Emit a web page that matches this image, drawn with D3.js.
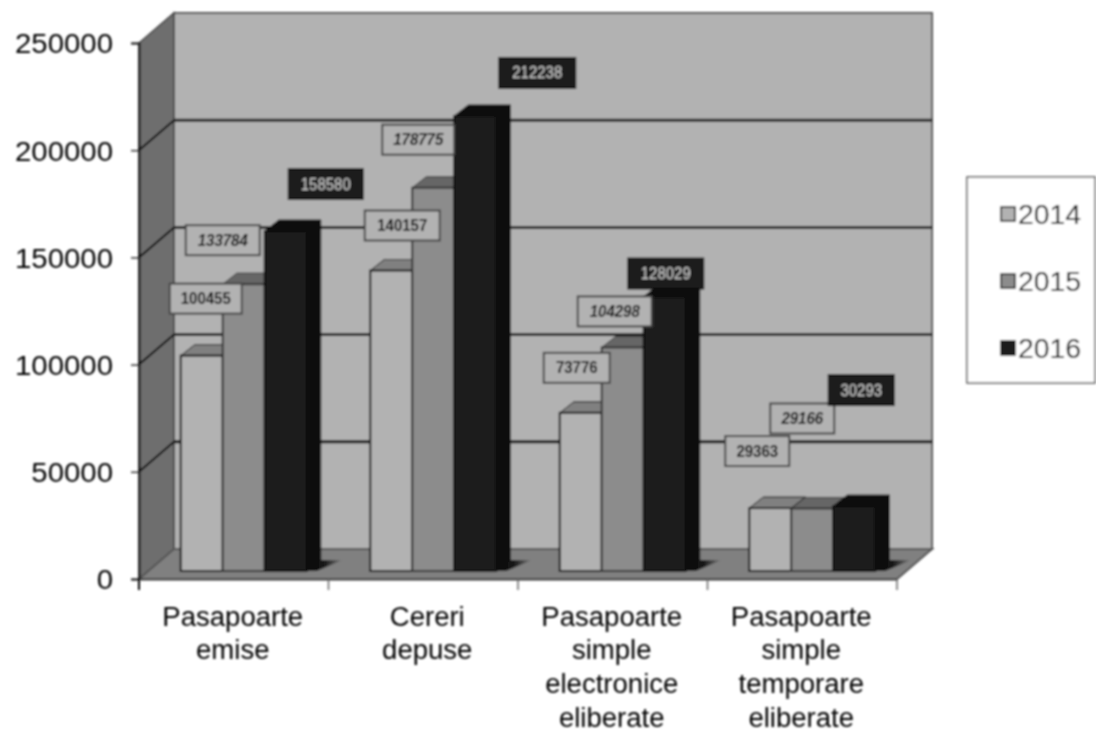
<!DOCTYPE html>
<html lang="ro">
<head>
<meta charset="UTF-8">
<title>Pasapoarte 2014-2016</title>
<style>
  html, body { margin: 0; padding: 0; background: #fff; overflow: hidden; }
  svg { display: block; }
  text { font-family: "Liberation Sans", Arial, sans-serif; }
  .axis path, .axis line { fill: none; }
</style>
</head>
<body>
<svg id="chart" width="1096" height="733"></svg>
<script src="https://d3js.org/d3.v7.min.js"></script>
<script>
// values
var categories = ["Pasapoarte emise", "Cereri depuse", "Pasapoarte simple electronice eliberate", "Pasapoarte simple temporare eliberate"];
var years = ["2014", "2015", "2016"];
var values2014 = [100455, 140157, 73776, 29363];
var values2015 = [133784, 178775, 104298, 29166];
var values2016 = [158580, 212238, 128029, 30293];
var yTicks = [0, 50000, 100000, 150000, 200000, 250000];

var seriesValues = [values2014, values2015, values2016];

// hand placed data labels, offset from top centre of the bar [series][category]
var labelDx = [[4, 11, -4, -13], [-21, -15, -8, -10], [40, 62, 1, 7]];
var labelDy = [[-57, -45, -45, -57], [-44, -48, -36, -90], [-47, -43, -23, -116]];
var labelWidth = [[72, 75, 66, 64], [74, 72, 74, 64], [74, 76, 75, 65]];
var catDx = [-1, 4, -1, -1];

var front = ["#b2b2b2", "#8c8c8c", "#1a1a1a"];
var topFace = ["#808080", "#666666", "#111111"];
var sideFace = ["#808080", "#666666", "#0f0f0f"];
var edge = ["#111111", "#333333", "#0a0a0a"];
var labelFill = ["#b2b2b2", "#b2b2b2", "#1a1a1a"];
var labelText = ["#000000", "#000000", "#cfcfcf"];

var depthX = 35, depthY = 30;     // wall offset
var barDx = 10, barDy = 8;        // bars stand a bit behind the front edge
var barDepthX = 14, barDepthY = 11;

var svg = d3.select("#chart");

var defs = svg.append("defs");
defs.append("filter").attr("id", "soft")
  .attr("filterUnits", "userSpaceOnUse")
  .attr("x", 0).attr("y", 0).attr("width", 1096).attr("height", 733)
  .append("feGaussianBlur").attr("stdDeviation", 0.8);
var grad = defs.append("linearGradient").attr("id", "shadow");
grad.append("stop").attr("offset", "0%").attr("stop-color", "#000");
grad.append("stop").attr("offset", "50%").attr("stop-color", "#1a1a1a");
grad.append("stop").attr("offset", "100%").attr("stop-color", "#808080");

var root = svg.append("g").attr("filter", "url(#soft)");

var x = d3.scaleBand().domain(categories).range([139, 897]);
var y = d3.scaleLinear().domain([0, 250000]).range([579, 43]);
var xInner = d3.scaleBand().domain(years).range([0, x.bandwidth()]).paddingInner(0).paddingOuter(0.756);

var x0 = x.range()[0], x1 = x.range()[1];
var yBase = y(0), yTop = y(250000);

function poly(pts) { return pts.map(function(p) { return p.join(","); }).join(" "); }

// walls and floor
root.append("polygon")
  .attr("points", poly([[x0 + depthX, yTop - depthY], [x1 + depthX, yTop - depthY], [x1 + depthX, yBase - depthY], [x0 + depthX, yBase - depthY]]))
  .attr("fill", "#b2b2b2").attr("stroke", "#555").attr("stroke-width", 2);
root.append("polygon")
  .attr("points", poly([[x0, yTop], [x0 + depthX, yTop - depthY], [x0 + depthX, yBase - depthY], [x0, yBase]]))
  .attr("fill", "#6e6e6e").attr("stroke", "#444").attr("stroke-width", 1.5);
root.append("polygon")
  .attr("points", poly([[x0, yBase], [x0 + depthX, yBase - depthY], [x1 + depthX, yBase - depthY], [x1, yBase]]))
  .attr("fill", "#808080").attr("stroke", "#555").attr("stroke-width", 2);

// gridlines, back wall + side wall
var grid = yTicks.filter(function(d) { return d > 0 && d < 250000; });
root.selectAll(".grid").data(grid).enter().append("line")
  .attr("x1", x0 + depthX).attr("x2", x1 + depthX)
  .attr("y1", function(d) { return y(d) - depthY; })
  .attr("y2", function(d) { return y(d) - depthY; })
  .attr("stroke", function(d) { return d === 50000 ? "#000" : "#1c1c1c"; }).attr("stroke-width", 3);
root.selectAll(".gridside").data(grid).enter().append("line")
  .attr("x1", x0).attr("x2", x0 + depthX)
  .attr("y1", function(d) { return y(d); })
  .attr("y2", function(d) { return y(d) - depthY; })
  .attr("stroke", "#000").attr("stroke-width", 2);

// axes
var yAxis = d3.axisLeft(y).tickValues(yTicks).tickSize(8).tickFormat(d3.format("d"));
var gy = root.append("g").attr("class", "axis").attr("transform", "translate(" + x0 + ",0)").call(yAxis);
gy.select(".domain").attr("stroke", "#000").attr("stroke-width", 2);
gy.selectAll("line").attr("stroke", "#333").attr("stroke-width", 1.5);
gy.selectAll("text")
  .attr("x", 0)
  .attr("dy", "0.35em")
  .attr("transform", "translate(-26,0) scale(1.05,1)")
  .attr("font-size", 28).attr("fill", "#000").attr("font-family", "Liberation Sans");

var xAxis = d3.axisBottom(x).tickSize(0).tickPadding(0).tickFormat("");
var gx = root.append("g").attr("class", "axis").attr("transform", "translate(0," + yBase + ")").call(xAxis);
gx.select(".domain").attr("stroke", "#444").attr("stroke-width", 2);

// ticks sit between the categories
var edges = categories.map(function(c) { return x(c); }).concat([x1]);
root.selectAll(".xtick").data(edges).enter().append("line")
  .attr("x1", function(d) { return d; }).attr("x2", function(d) { return d; })
  .attr("y1", yBase).attr("y2", yBase + 11)
  .attr("stroke", function(d, i) { return i === 0 ? "#000" : "#666"; })
  .attr("stroke-width", function(d, i) { return i === 0 ? 2 : 1.5; });

// category labels, one word per line
var catLabels = root.selectAll(".cat").data(categories).enter().append("text")
  .attr("class", "cat")
  .attr("transform", function(d, i) { return "translate(" + (x(d) + x.bandwidth() / 2 + catDx[i]) + ",625.5) scale(1.02,1)"; })
  .attr("text-anchor", "middle").attr("font-size", 27).attr("fill", "#000");
catLabels.selectAll("tspan").data(function(d) { return d.split(" "); }).enter().append("tspan")
  .attr("x", 0)
  .attr("y", function(d, i) { return i * 33.9; })
  .text(function(d) { return d; });

// bars
function barLeft(c, s) { return x(categories[c]) + xInner(years[s]) + barDx; }
function barTop(v) { return y(v) - barDy; }
var barBottom = yBase - barDy;
var bw = xInner.bandwidth();

categories.forEach(function(cat, c) {
  var g = root.append("g").attr("class", "group");

  // shadow on the floor behind the last bar
  var sx = barLeft(c, 2) + bw;
  g.append("polygon")
    .attr("points", poly([[sx, barBottom], [sx + barDepthX, barBottom - barDepthY], [sx + barDepthX + 22, barBottom - barDepthY], [sx + 10, barBottom]]))
    .attr("fill", "url(#shadow)");

  years.forEach(function(yr, s) {
    var v = seriesValues[s][c];
    var l = barLeft(c, s), r = l + bw, t = barTop(v);
    g.append("polygon")
      .attr("points", poly([[r, t], [r + barDepthX, t - barDepthY], [r + barDepthX, barBottom - barDepthY], [r, barBottom]]))
      .attr("fill", sideFace[s]).attr("stroke", edge[s]);
    g.append("polygon")
      .attr("points", poly([[l, t], [l + barDepthX, t - barDepthY], [r + barDepthX, t - barDepthY], [r, t]]))
      .attr("fill", topFace[s]).attr("stroke", edge[s]);
    g.append("rect")
      .attr("x", l).attr("y", t).attr("width", bw).attr("height", barBottom - t)
      .attr("fill", front[s]).attr("stroke", edge[s]).attr("stroke-width", 2);
  });
});

// data labels on top of everything
years.forEach(function(yr, s) {
  categories.forEach(function(cat, c) {
    var v = seriesValues[s][c];
    var cx = barLeft(c, s) + bw / 2 + labelDx[s][c];
    var cy = barTop(v) + labelDy[s][c];
    var w = labelWidth[s][c], h = 30;
    root.append("rect")
      .attr("x", cx - w / 2).attr("y", cy - h / 2).attr("width", w).attr("height", h)
      .attr("fill", labelFill[s]).attr("stroke", s === 2 ? "#111" : "#444").attr("stroke-width", 2);
    root.append("text")
      .attr("transform", "translate(" + cx + "," + (cy + 5.5) + ") scale(1,1.1)")
      .attr("text-anchor", "middle")
      .attr("font-size", 15)
      .attr("font-weight", s === 2 ? "normal" : "bold")
      .attr("font-style", s === 1 ? "italic" : "normal")
      .attr("fill", labelText[s])
      .text(v);
  });
});

// legend
var legendY = d3.scalePoint().domain(years).range([214, 348]);
root.append("rect")
  .attr("x", 967).attr("y", 177).attr("width", 128).attr("height", 206)
  .attr("fill", "#fff").attr("stroke", "#555").attr("stroke-width", 1.5);
var leg = root.selectAll(".leg").data(years).enter().append("g")
  .attr("class", "leg")
  .attr("transform", function(d) { return "translate(1001," + legendY(d) + ")"; });
leg.append("rect")
  .attr("x", 0).attr("y", -7).attr("width", 14).attr("height", 14)
  .attr("fill", function(d, i) { return front[i]; })
  .attr("stroke", "#000").attr("stroke-width", 1.5);
leg.append("text")
  .attr("transform", "translate(17,10) scale(1.05,1)")
  .attr("font-size", 27).attr("fill", "#000")
  .text(function(d) { return d; });
</script>
</body>
</html>
